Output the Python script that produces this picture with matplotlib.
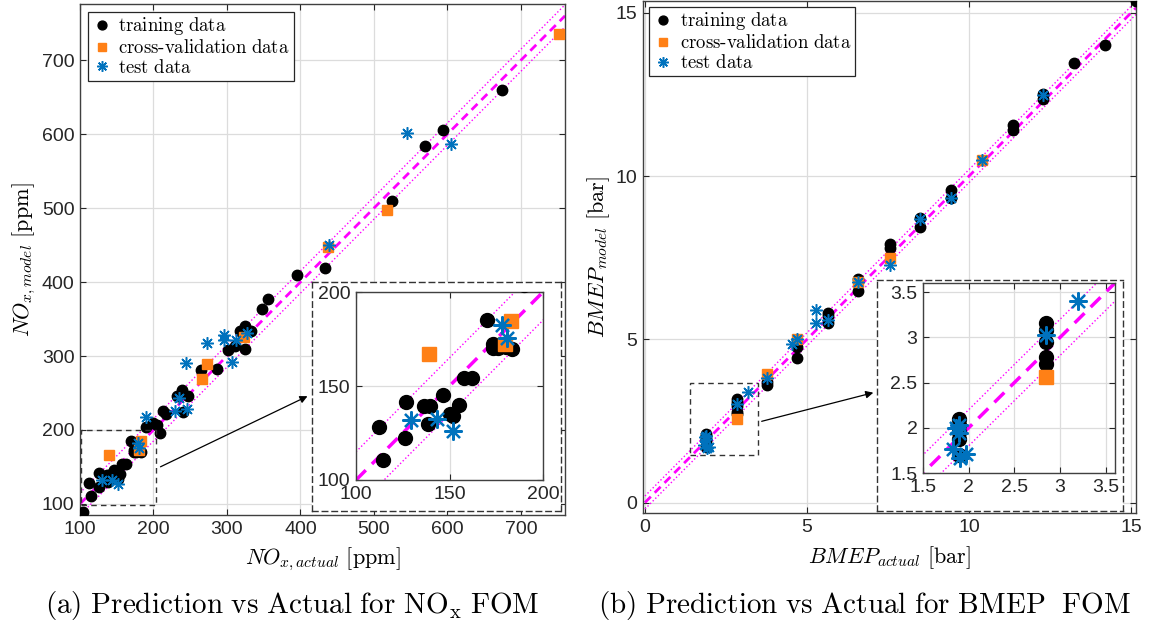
import matplotlib
matplotlib.use("Agg")
import matplotlib.pyplot as plt
import numpy as np

plt.rcParams['mathtext.fontset'] = 'cm'
plt.rcParams['font.family'] = ['Liberation Sans', 'DejaVu Sans']

# ---------------- NOx data ----------------
nox_train_x = [104, 112.5, 114.5, 126, 126.5, 136.5, 139.5, 138.5, 146.5, 150, 152, 155, 157.5, 162,
               170, 173.5, 173, 176, 183.5, 180, 189.8, 199.7, 204.3, 208.8, 213.4, 216.9, 231.5,
               238.3, 239.7, 246.4, 264.6, 285.9, 301.8, 310.9, 317.7, 324.9, 324.9, 332.6, 348.1,
               355.3, 394.8, 433.3, 524.9, 569.4, 594.3, 674.6]
nox_train_y = [89, 128, 110.7, 122.6, 141.6, 139.1, 139.6, 129.8, 145.3, 135.2, 134.3, 140, 154, 154,
               185.3, 172.5, 170.2, 170.2, 169.6, 171, 203.5, 209, 206.8, 195.4, 226.2, 221.2, 246.1,
               254.3, 224.8, 246.5, 280.5, 282.4, 308.5, 313, 333.4, 340.2, 309.9, 333.4, 363.2,
               377.2, 409.4, 418.5, 509.4, 584.4, 605.7, 660.2]
nox_cv_x = [138.9, 183.1, 179.9, 266.4, 272.3, 323.5, 437.6, 518.1, 751.7]
nox_cv_y = [166.8, 184.7, 172.5, 268.7, 289.4, 325.2, 448, 497.2, 735.1]
nox_test_x = [129.5, 143.2, 152, 178.3, 180.5, 189.8, 229.3, 235.1, 245.2, 243.7, 272.3, 295.9,
              295.9, 307.2, 312.2, 327.6, 438.3, 545.3, 604.2]
nox_test_y = [132, 132.3, 126.3, 182.2, 175.5, 217.1, 225.8, 243.8, 228.5, 290.4, 317.5, 328,
              321.2, 291.3, 322, 331, 449.7, 601.1, 586.7]
nox_band = 15

# ---------------- BMEP data ----------------
bmep_train_x = [1.89, 1.89, 1.89, 1.89, 1.89, 2.84, 2.84, 2.84, 2.84, 2.84, 3.76, 3.76, 4.68, 4.68,
                5.66, 5.66, 5.66, 6.58, 6.58, 7.56, 7.56, 8.5, 8.5, 9.44, 9.44, 11.34, 11.34,
                12.29, 12.29, 13.25, 14.2, 15.15]
bmep_train_y = [2.10, 2.03, 1.95, 1.88, 1.70, 3.16, 3.08, 2.95, 2.78, 2.70, 3.70, 3.59, 4.75, 4.44,
                5.82, 5.70, 5.51, 6.86, 6.48, 7.91, 7.80, 8.70, 8.45, 9.58, 9.32, 11.56, 11.41,
                12.50, 12.35, 13.46, 14.0, 15.35]
bmep_cv_x = [2.84, 3.76, 4.68, 6.58, 7.56, 10.39]
bmep_cv_y = [2.56, 3.93, 5.02, 6.76, 7.50, 10.50]
bmep_test_x = [1.89, 1.89, 1.86, 1.83, 1.91, 1.97, 2.84, 3.19, 3.76, 4.53, 4.68, 5.28, 5.28, 5.66,
               6.58, 7.56, 8.5, 9.44, 10.39, 12.29]
bmep_test_y = [2.03, 1.94, 2.00, 1.77, 1.67, 1.71, 3.03, 3.40, 3.82, 4.85, 5.02, 5.90, 5.51, 5.60,
               6.76, 7.27, 8.68, 9.33, 10.50, 12.47]
bmep_band = 0.2

C_TR = 'black'
C_CV = '#FF8016'
C_TE = '#0072BD'
MAG = '#FF00FF'
GRID = '#DCDCDC'
SPINE = '#404040'

W, H = 1153, 628
fig = plt.figure(figsize=(W / 100, H / 100), dpi=100)


def rect(l, t, r, b):
    return [l / W, 1 - b / H, (r - l) / W, (b - t) / H]


def style(ax, fs=14):
    ax.tick_params(direction='in', top=True, right=True, length=4, width=0.8,
                   labelsize=fs, colors='#262626', pad=4)
    for s in ax.spines.values():
        s.set_color(SPINE)
        s.set_linewidth(1.0)
    ax.grid(True, color=GRID, lw=0.9)
    ax.set_axisbelow(True)


def draw(ax, tx, ty, cx, cy, sx, sy, lo, hi, band, big=False):
    xs = np.array([lo, hi])
    ax.plot(xs, xs, ls=(0, (3, 2)) if not big else (0, (4, 2.5)), color=MAG,
            lw=2.0 if not big else 2.5, zorder=2)
    ax.plot(xs, xs + band, ls=':', color=MAG, lw=1.0, zorder=2)
    ax.plot(xs, xs - band, ls=':', color=MAG, lw=1.0, zorder=2)
    ms = 10 if big else 7.5
    ax.plot(tx, ty, 'o', color=C_TR, ms=ms, ls='none', zorder=3,
            label=r'$\mathrm{training\ data}$')
    ax.plot(cx, cy, 's', color=C_CV, ms=ms * 0.95, ls='none', zorder=4,
            label=r'$\mathrm{cross\text{-}validation\ data}$')
    ax.plot(sx, sy, marker=(8, 2, 0), color=C_TE, ms=13 if big else 9,
            mew=1.6 if big else 1.1, ls='none', zorder=5, label=r'$\mathrm{test\ data}$')


def box_axes(r):
    b = fig.add_axes(r)
    b.set_xticks([])
    b.set_yticks([])
    b.set_facecolor('white')
    for s in b.spines.values():
        s.set_linestyle((0, (4, 3)))
        s.set_color('#333333')
        s.set_linewidth(1.0)
    return b


def legend(ax, pad):
    leg = ax.legend(loc='upper left', fontsize=13.5, frameon=True, fancybox=False,
                    edgecolor='#262626', framealpha=1, borderpad=0.2, handletextpad=0.35,
                    labelspacing=0.1, handlelength=1.1, borderaxespad=pad, markerscale=0.85)
    leg.get_frame().set_linewidth(0.9)
    return leg


# ---------------- Left: NOx ----------------
axL = fig.add_axes(rect(80, 4, 565, 515))
draw(axL, nox_train_x, nox_train_y, nox_cv_x, nox_cv_y, nox_test_x, nox_test_y,
     100, 760, nox_band)
axL.set_xlim(100, 760)
axL.set_ylim(85, 776)
axL.set_xticks(np.arange(100, 701, 100))
axL.set_yticks(np.arange(100, 701, 100))
style(axL)
axL.set_xlabel(r'$NO_{x,actual}\ \mathrm{[ppm]}$', fontsize=16, labelpad=6)
axL.set_ylabel(r'$NO_{x,model}\ \mathrm{[ppm]}$', fontsize=16, labelpad=3)
legend(axL, 0.4)
axL.add_patch(plt.Rectangle((101, 99), 102, 101, fill=False, ls=(0, (4, 3)),
                            ec='#333333', lw=1.0, zorder=6))

box_axes(rect(312, 282, 561, 511))
inL = fig.add_axes(rect(356, 292, 543, 480))
draw(inL, nox_train_x, nox_train_y, nox_cv_x, nox_cv_y, nox_test_x, nox_test_y,
     100, 760, nox_band, big=True)
inL.set_xlim(100, 200)
inL.set_ylim(100, 200)
inL.set_xticks([100, 150, 200])
inL.set_yticks([100, 150, 200])
style(inL)

fig.patches.append(matplotlib.patches.FancyArrowPatch(
    (158 / W, 1 - 468 / H), (310 / W, 1 - 395 / H), transform=fig.transFigure,
    arrowstyle='-|>', mutation_scale=11, color='black', lw=0.9))

# ---------------- Right: BMEP ----------------
axR = fig.add_axes(rect(643, 1, 1136, 513))
draw(axR, bmep_train_x, bmep_train_y, bmep_cv_x, bmep_cv_y, bmep_test_x, bmep_test_y,
     0, 15.15, bmep_band)
axR.set_xlim(-0.06, 15.15)
axR.set_ylim(-0.32, 15.36)
axR.set_xticks([0, 5, 10, 15])
axR.set_yticks([0, 5, 10, 15])
style(axR)
axR.set_xlabel(r'$BMEP_{actual}\ \mathrm{[bar]}$', fontsize=16, labelpad=6)
axR.set_ylabel(r'$BMEP_{model}\ \mathrm{[bar]}$', fontsize=16, labelpad=3)
legend(axR, 0.3)
axR.add_patch(plt.Rectangle((1.38, 1.45), 2.12, 2.2, fill=False, ls=(0, (4, 3)),
                            ec='#333333', lw=1.0, zorder=6))

box_axes(rect(877, 280, 1123, 511))
inR = fig.add_axes(rect(923, 283, 1115, 473))
draw(inR, bmep_train_x, bmep_train_y, bmep_cv_x, bmep_cv_y, bmep_test_x, bmep_test_y,
     0, 15.15, bmep_band, big=True)
inR.set_xlim(1.5, 3.6)
inR.set_ylim(1.5, 3.6)
inR.set_xticks([1.5, 2, 2.5, 3, 3.5])
inR.set_yticks([1.5, 2, 2.5, 3, 3.5])
inR.set_xticklabels(['1.5', '2', '2.5', '3', '3.5'])
inR.set_yticklabels(['1.5', '2', '2.5', '3', '3.5'])
style(inR)

fig.patches.append(matplotlib.patches.FancyArrowPatch(
    (759 / W, 1 - 422 / H), (876 / W, 1 - 392 / H), transform=fig.transFigure,
    arrowstyle='-|>', mutation_scale=11, color='black', lw=0.9))

# ---------------- Captions ----------------
fig.text(292 / W, 1 - 606 / H, r'$\mathrm{(a)\ Prediction\ vs\ Actual\ for\ NO_x\ FOM}$',
         ha='center', va='center', fontsize=21)
fig.text(865 / W, 1 - 606 / H, r'$\mathrm{(b)\ Prediction\ vs\ Actual\ for\ BMEP\ \ FOM}$',
         ha='center', va='center', fontsize=21)

fig.savefig('out.png', dpi=100)
